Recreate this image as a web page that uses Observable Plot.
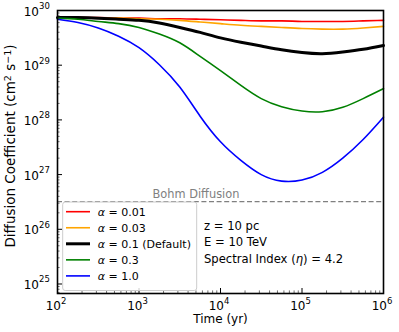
<!DOCTYPE html>
<html><head><meta charset="utf-8">
<script src="https://cdn.jsdelivr.net/npm/d3@7"></script>
<script src="https://cdn.jsdelivr.net/npm/@observablehq/plot@0.6"></script>
<style>
html,body{margin:0;padding:0;background:#fff;}
#chart svg{display:block;}
</style></head><body><div id="chart"></div>
<script>
// ---------- data ----------
const times = [100, 178, 316, 562, 1000, 1778, 3162, 5623, 10000, 17783, 31623, 56234, 100000, 177828, 316228, 562341, 1000000];
const alphaLabels = ["0.01", "0.03", "0.1 (Default)", "0.3", "1.0"];
const dAlpha001 = [7.41e29, 7.41e29, 7.41e29, 7.24e29, 7.24e29, 7.08e29, 7.08e29, 6.92e29, 6.76e29, 6.61e29, 6.46e29, 6.46e29, 6.31e29, 6.31e29, 6.31e29, 6.46e29, 6.61e29];
const dAlpha003 = [7.41e29, 7.41e29, 7.24e29, 7.24e29, 7.08e29, 6.92e29, 6.61e29, 6.17e29, 5.75e29, 5.37e29, 5.13e29, 4.90e29, 4.68e29, 4.57e29, 4.57e29, 4.79e29, 5.13e29];
const dAlpha01  = [7.41e29, 7.41e29, 7.24e29, 6.92e29, 6.61e29, 5.89e29, 4.90e29, 3.98e29, 3.16e29, 2.63e29, 2.24e29, 1.91e29, 1.70e29, 1.62e29, 1.74e29, 1.95e29, 2.29e29];
const dAlpha03  = [7.24e29, 6.92e29, 6.31e29, 5.75e29, 4.90e29, 3.72e29, 2.57e29, 1.45e29, 7.94e28, 4.27e28, 2.45e28, 1.74e28, 1.45e28, 1.41e28, 1.70e28, 2.45e28, 3.72e28];
const dAlpha1   = [6.92e29, 6.03e29, 4.79e29, 3.39e29, 2.09e29, 1.02e29, 3.98e28, 1.17e28, 3.98e27, 1.82e27, 1.00e27, 7.59e26, 7.94e26, 1.10e27, 2.00e27, 4.37e27, 1.12e28];
const bohmD = 3.2e26;
const bohmLabel = "Bohm Diffusion";
const bohmLabelTime = 5000;
const xTickValues = [1e2, 1e3, 1e4, 1e5, 1e6];
const xTickExps = ["2", "3", "4", "5", "6"];
const yTickValues = [1e25, 1e26, 1e27, 1e28, 1e29, 1e30];
const yTickExps = ["25", "26", "27", "28", "29", "30"];
const xLabel = "Time (yr)";
const yLabelParts = [["Diffusion Coefficient (cm", 0], ["2", 1], [" s", 0], ["−1", 1], [")", 0]];
const infoLines = [["z = 10 pc"], ["E = 10 TeV"], ["Spectral Index (", "η", ") = 4.2"]];

// ---------- styles ----------
const seriesValues = [dAlpha001, dAlpha003, dAlpha01, dAlpha03, dAlpha1];
const seriesColors = ["red", "orange", "black", "green", "blue"];
const seriesWidths = [1.6, 1.6, 3, 1.6, 1.6];
const FONT = "DejaVu Sans";

const xMinor = [], yMinor = [];
for (let e = 2; e < 6; e++) for (let k = 2; k <= 9; k++) xMinor.push(k * 10 ** e);
for (let e = 24; e < 30; e++) for (let k = 2; k <= 9; k++) { const v = k * 10 ** e; if (v >= 6.7e24) yMinor.push(v); }

const marks = [
  Plot.ruleY([bohmD], {stroke: "gray", strokeWidth: 1.2, strokeDasharray: "5,2.6"}),
  Plot.text([bohmLabel], {x: () => bohmLabelTime, y: () => bohmD, text: d => d, fill: "gray", fontSize: 11.4, lineAnchor: "bottom", dy: -3.5}),
  ...seriesValues.map((vals, i) => Plot.line(vals, {
    x: (d, j) => times[j], y: d => d, stroke: seriesColors[i], strokeWidth: seriesWidths[i], curve: "natural"
  })),
  // ticks (inward)
  Plot.axisY({ticks: yTickValues, tickSize: 5, dx: 5, tickFormat: () => "", label: null, stroke: "black", strokeWidth: 1}),
  Plot.axisY({ticks: yMinor, tickSize: 2.6, dx: 2.6, tickFormat: () => "", label: null, stroke: "#333", strokeWidth: 0.7}),
  Plot.axisX({ticks: xTickValues, tickSize: 5, dy: -5, tickFormat: () => "", label: null, stroke: "black", strokeWidth: 1}),
  Plot.axisX({ticks: xMinor, tickSize: 2.6, dy: -2.6, tickFormat: () => "", label: null, stroke: "#333", strokeWidth: 0.7}),
  // tick labels 10^n
  Plot.text(yTickValues, {y: d => d, frameAnchor: "left", text: () => "10", textAnchor: "end", lineAnchor: "bottom", dx: -18.5, dy: 5, fontSize: 12, fill: "black"}),
  Plot.text(yTickValues, {y: d => d, frameAnchor: "left", text: (d, i) => yTickExps[i], textAnchor: "end", lineAnchor: "bottom", dx: -7.7, dy: -1.5, fontSize: 8.5, fill: "black"}),
  Plot.text(xTickValues, {x: d => d, frameAnchor: "bottom", text: () => "10", textAnchor: "end", lineAnchor: "bottom", dx: 3.5, dy: 16.5, fontSize: 12, fill: "black"}),
  Plot.text(xTickValues, {x: d => d, frameAnchor: "bottom", text: (d, i) => xTickExps[i], textAnchor: "start", lineAnchor: "bottom", dx: 3.5, dy: 10.5, fontSize: 8.5, fill: "black"}),
  // x axis label
  Plot.text([xLabel], {frameAnchor: "bottom", text: d => d, lineAnchor: "bottom", dy: 29, fontSize: 12, fill: "black"}),
  Plot.frame({stroke: "black", strokeWidth: 1.6})
];

const chart = Plot.plot({
  width: 399, height: 332,
  marginTop: 10, marginRight: 16, marginBottom: 39, marginLeft: 57,
  x: {type: "log", domain: [1e2, 1e6]},
  y: {type: "log", domain: [6.7e24, 1e30]},
  style: {fontFamily: FONT, background: "white", overflow: "visible"},
  marks
});
document.getElementById("chart").appendChild(chart);

// ---------- y label, legend & annotation (overlay in the same SVG) ----------
const svg = d3.select(chart);
const yl = svg.append("text").attr("transform", "translate(15,146) rotate(-90)")
  .attr("text-anchor", "middle").attr("font-family", FONT).attr("font-size", 13.5).attr("fill", "black");
yLabelParts.forEach(([p, sup]) => {
  const s = yl.append("tspan").text(p);
  if (sup) s.attr("font-size", 9.5).attr("baseline-shift", "40%");
  else s.attr("baseline-shift", "0");
});

const lg = svg.append("g").attr("font-family", FONT).attr("font-size", 11).attr("text-anchor", "start");
lg.append("rect").attr("x", 62.7).attr("y", 202).attr("width", 134).attr("height", 88.5)
  .attr("rx", 2.5).attr("fill", "white").attr("fill-opacity", 0.8).attr("stroke", "#cccccc").attr("stroke-width", 1);
alphaLabels.forEach((lab, i) => {
  const yy = 211.7 + i * 16.05;
  lg.append("line").attr("x1", 66).attr("x2", 90).attr("y1", yy).attr("y2", yy)
    .attr("stroke", seriesColors[i]).attr("stroke-width", seriesWidths[i]);
  const t = lg.append("text").attr("x", 97.7).attr("y", yy).attr("dy", "0.36em").attr("fill", "black");
  t.append("tspan").attr("font-style", "italic").text("α");
  t.append("tspan").text(" = " + lab);
});
const ig = svg.append("g").attr("font-family", FONT).attr("font-size", 11.6).attr("text-anchor", "start");
infoLines.forEach((parts, i) => {
  const t = ig.append("text").attr("x", 204).attr("y", 230 + i * 16.25).attr("fill", "black");
  parts.forEach(p => { const s = t.append("tspan").text(p); if (p === "η") s.attr("font-style", "italic"); });
});
</script></body></html>
